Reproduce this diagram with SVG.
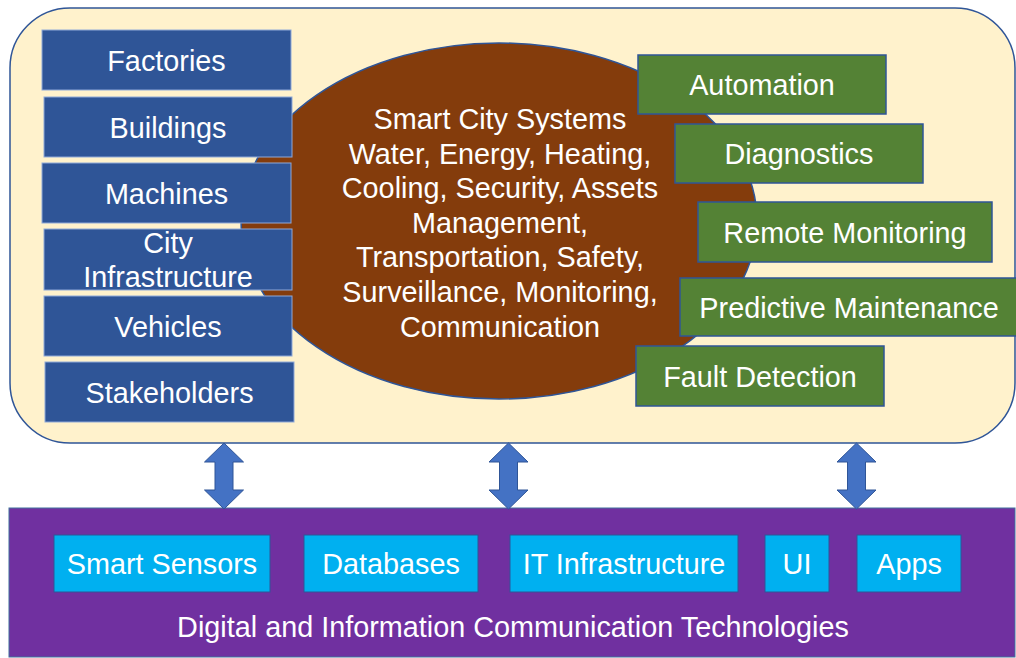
<svg xmlns="http://www.w3.org/2000/svg" width="1016" height="658" viewBox="0 0 1016 658">
<style>
text{font-family:"Liberation Sans",Arial,sans-serif;font-size:28.8px;fill:#ffffff;text-anchor:middle}
.blue{fill:#2F5597;stroke:#8FA9D8;stroke-width:1}
.green{fill:#548235;stroke:#2F5597;stroke-width:1.5}
.cyan{fill:#00B0F0;stroke:#2F5597;stroke-width:1}
.arrow{fill:#4472C4;stroke:#2F5597;stroke-width:1}
</style>
<defs>
<path id="dbl" d="M0,0 L19.5,19 L9,19 L9,47 L19.5,47 L0,66 L-19.5,47 L-9,47 L-9,19 L-19.5,19 Z"/>
</defs>
<g id="outer">
<rect x="10" y="8" width="1005" height="435" rx="60" ry="60" fill="#FFF2CC" stroke="#2F5597" stroke-width="1.5"/>
</g>
<g id="ict">
<rect x="9" y="508" width="1006" height="149" fill="#7030A0" stroke="#41719C" stroke-width="1"/>
<text x="513" y="637">Digital and Information Communication Technologies</text>
</g>
<g id="core">
<ellipse cx="499" cy="221" rx="258" ry="178" fill="#843C0C" stroke="#2F5597" stroke-width="1.5"/>
<text x="500" y="129">Smart City Systems</text>
<text x="500" y="164">Water, Energy, Heating,</text>
<text x="500" y="198">Cooling, Security, Assets</text>
<text x="500" y="233">Management,</text>
<text x="500" y="267">Transportation, Safety,</text>
<text x="500" y="302">Surveillance, Monitoring,</text>
<text x="500" y="337">Communication</text>
</g>
<g id="factories"><rect class="blue" x="42" y="30" width="249" height="60"/><text x="166.5" y="71">Factories</text></g>
<g id="buildings"><rect class="blue" x="44" y="97" width="248" height="60"/><text x="168" y="138">Buildings</text></g>
<g id="machines"><rect class="blue" x="42" y="163" width="249" height="60"/><text x="166.5" y="204">Machines</text></g>
<g id="city-infrastructure"><rect class="blue" x="44" y="229" width="248" height="61"/><text x="168" y="253">City</text><text x="168" y="287">Infrastructure</text></g>
<g id="vehicles"><rect class="blue" x="44" y="296" width="248" height="60"/><text x="168" y="337">Vehicles</text></g>
<g id="stakeholders"><rect class="blue" x="45" y="362" width="249" height="60"/><text x="169.5" y="403">Stakeholders</text></g>
<g id="automation"><rect class="green" x="638" y="55" width="248" height="59"/><text x="762" y="95">Automation</text></g>
<g id="diagnostics"><rect class="green" x="675" y="124" width="248" height="59"/><text x="799" y="164">Diagnostics</text></g>
<g id="remote-monitoring"><rect class="green" x="698" y="202" width="294" height="60"/><text x="845" y="243">Remote Monitoring</text></g>
<g id="predictive-maintenance"><rect class="green" x="680" y="278" width="340" height="58"/><text x="849" y="318">Predictive Maintenance</text></g>
<g id="fault-detection"><rect class="green" x="636" y="346" width="248" height="60"/><text x="760" y="387">Fault Detection</text></g>
<g id="smart-sensors"><rect class="cyan" x="54" y="535" width="216" height="57"/><text x="162" y="574">Smart Sensors</text></g>
<g id="databases"><rect class="cyan" x="304" y="535" width="174" height="57"/><text x="391" y="574">Databases</text></g>
<g id="it-infrastructure"><rect class="cyan" x="510" y="535" width="228" height="57"/><text x="624" y="574">IT Infrastructure</text></g>
<g id="ui"><rect class="cyan" x="765" y="535" width="64" height="57"/><text x="797" y="574">UI</text></g>
<g id="apps"><rect class="cyan" x="857" y="535" width="104" height="57"/><text x="909" y="574">Apps</text></g>
<g id="connectors">
<use href="#dbl" class="arrow" x="224" y="443"/>
<use href="#dbl" class="arrow" x="508.5" y="443"/>
<use href="#dbl" class="arrow" x="856.5" y="443"/>
</g>
</svg>
